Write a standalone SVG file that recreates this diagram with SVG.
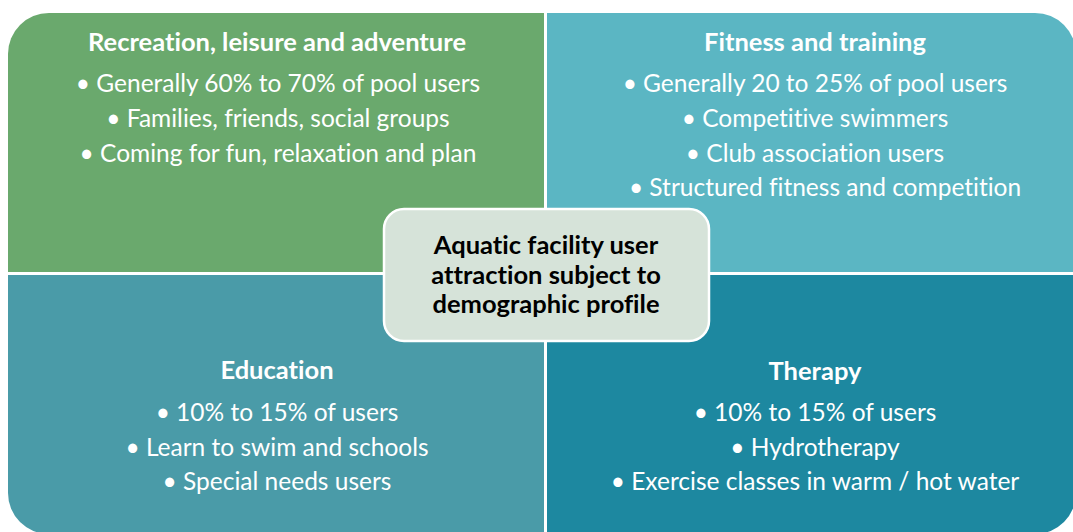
<svg xmlns="http://www.w3.org/2000/svg" width="1073" height="532" viewBox="0 0 1073 532">
  <style>
    text { font-family: Lato, "Open Sans", sans-serif; text-anchor: middle; font-variant-ligatures: none; }
    .title { font-weight: bold; font-size: 25.5px; fill: #ffffff; }
    .item { font-size: 24.5px; fill: #ffffff; }
    .hub { font-weight: bold; font-size: 25.5px; fill: #000000; }
  </style>
  <rect width="1073" height="532" fill="#ffffff"/>

  <!-- Recreation quadrant (top-left) -->
  <g id="recreation">
    <path d="M8,54 A41,41 0 0 1 49,13 L544,13 L544,272 L8,272 Z" fill="#6aa96d"/>
    <text class="title" x="277" y="51">Recreation, leisure and adventure</text>
    <text class="item" x="278" y="92">• Generally 60% to 70% of pool users</text>
    <text class="item" x="278" y="127">• Families, friends, social groups</text>
    <text class="item" x="278" y="162">• Coming for fun, relaxation and plan</text>
  </g>

  <!-- Fitness quadrant (top-right) -->
  <g id="fitness">
    <path d="M547,13 L1035,13 A41,41 0 0 1 1076,54 L1076,272 L547,272 Z" fill="#5bb6c3"/>
    <text class="title" x="815" y="51">Fitness and training</text>
    <text class="item" x="815" y="92">• Generally 20 to 25% of pool users</text>
    <text class="item" x="815" y="127">• Competitive swimmers</text>
    <text class="item" x="815" y="162">• Club association users</text>
    <text class="item" x="825" y="196">• Structured fitness and competition</text>
  </g>

  <!-- Education quadrant (bottom-left) -->
  <g id="education">
    <path d="M8,275 L544,275 L544,534 L49,534 A41,41 0 0 1 8,493 Z" fill="#4a9ba8"/>
    <text class="title" x="277" y="379">Education</text>
    <text class="item" x="277" y="421">• 10% to 15% of users</text>
    <text class="item" x="277" y="456">• Learn to swim and schools</text>
    <text class="item" x="277" y="490">• Special needs users</text>
  </g>

  <!-- Therapy quadrant (bottom-right) -->
  <g id="therapy">
    <path d="M547,275 L1076,275 L1076,493 A41,41 0 0 1 1035,534 L547,534 Z" fill="#1d88a0"/>
    <text class="title" x="815" y="380">Therapy</text>
    <text class="item" x="815" y="421">• 10% to 15% of users</text>
    <text class="item" x="815" y="456">• Hydrotherapy</text>
    <text class="item" x="815" y="490">• Exercise classes in warm / hot water</text>
  </g>

  <!-- Central hub -->
  <g id="hub">
    <rect x="384" y="209" width="325" height="132" rx="20" ry="20" fill="#d6e3d9" stroke="#ffffff" stroke-width="2.5"/>
    <text class="hub" x="546" y="254">Aquatic facility user</text>
    <text class="hub" x="546" y="284">attraction subject to</text>
    <text class="hub" x="546" y="313">demographic profile</text>
  </g>

  <g id="connectors"/>
</svg>
